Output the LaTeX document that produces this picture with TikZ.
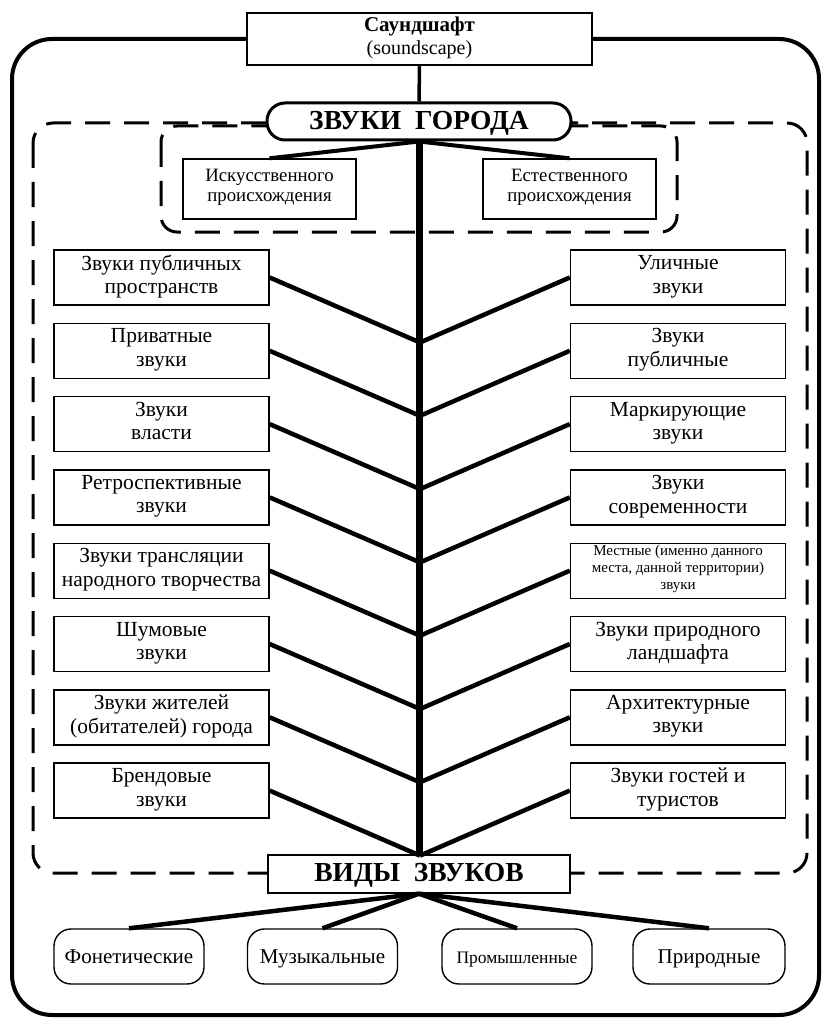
\documentclass[tikz,border=0pt]{standalone}
\usepackage{fontspec}
\setmainfont{Liberation Serif}
\begin{document}
\begin{tikzpicture}[x=1pt,y=-1pt,
  struts/.style 2 args={execute at begin node={\rule{0pt}{#1}},
    execute at end node={\rule[-#2]{0pt}{#2}}},
  rowbox/.style={draw, line width=1.4pt, fill=white, align=center, inner sep=0pt, struts={20pt}{6.5pt},
    minimum width=215pt, minimum height=55pt, font=\fontsize{21.5}{23.5}\selectfont},
  smalltext/.style={font=\fontsize{15}{17}\selectfont, struts={19pt}{5pt}},
  branch/.style={line width=4.5pt},
  dashbox/.style={line width=3pt, dash pattern=on 25pt off 14pt},
  pillbox/.style={draw, line width=1.4pt, rounded corners=17pt, fill=white, align=center, struts={19.6pt}{6pt},
    minimum width=150pt, minimum height=55pt, inner sep=0pt, font=\fontsize{21}{24}\selectfont},
  title/.style={font=\bfseries\fontsize{27.5}{30}\selectfont}
]
\useasboundingbox (0,0) rectangle (825,1019);
% outer frame
\draw[line width=4pt, rounded corners=40pt] (12,39) rectangle (819,1015);
% dashed frames
\draw[dashbox, rounded corners=20pt] (33,123) rectangle (807,873);
\draw[dashbox, rounded corners=16pt] (161,126) rectangle (677,232);

% top box
\node[draw, line width=2.5pt, fill=white, align=center, inner sep=0pt, struts={18.3pt}{7pt},
  minimum width=345pt, minimum height=52pt, font=\fontsize{20}{22.7}\selectfont]
  (top) at (419.5,39) {{\bfseries\fontsize{21}{22.7}\selectfont Саундшафт}\\(soundscape)};
% city sounds pill
\node[draw, line width=3pt, fill=white, rounded corners=18pt, inner sep=0pt,
  minimum width=304pt, minimum height=37pt, title, struts={21.6pt}{6pt}] (city) at (419,121.5) {ЗВУКИ\ \ ГОРОДА};
% inner boxes
\node[rowbox, minimum width=173pt, minimum height=60pt, struts={20pt}{6pt}, font=\fontsize{18.8}{20}\selectfont]
  (art) at (269.5,189) {Искусственного\\происхождения};
\node[rowbox, minimum width=173pt, minimum height=60pt, struts={20pt}{6pt}, font=\fontsize{18.8}{20}\selectfont]
  (nat) at (569.5,189) {Естественного\\происхождения};
% kinds box
\node[draw, line width=1.4pt, fill=white, inner sep=0pt, minimum width=302pt,
  minimum height=38pt, title, struts={21.4pt}{6pt}] (kinds) at (419,874) {ВИДЫ\ \ ЗВУКОВ};

% left boxes
\node[rowbox] (L0) at (161.5,277.5) {Звуки публичных\\пространств};
\node[rowbox] (L1) at (161.5,350.8) {Приватные\\звуки};
\node[rowbox] (L2) at (161.5,424.1) {Звуки\\власти};
\node[rowbox] (L3) at (161.5,497.4) {Ретроспективные\\звуки};
\node[rowbox] (L4) at (161.5,570.7) {Звуки трансляции\\народного творчества};
\node[rowbox] (L5) at (161.5,644.0) {Шумовые\\звуки};
\node[rowbox] (L6) at (161.5,717.3) {Звуки жителей\\(обитателей) города};
\node[rowbox] (L7) at (161.5,790.6) {Брендовые\\звуки};
% right boxes
\node[rowbox] (R0) at (678,277.5) {Уличные\\звуки};
\node[rowbox] (R1) at (678,350.8) {Звуки\\публичные};
\node[rowbox] (R2) at (678,424.1) {Маркирующие\\звуки};
\node[rowbox] (R3) at (678,497.4) {Звуки\\современности};
\node[rowbox, smalltext] (R4) at (678,570.7) {Местные (именно данного\\места, данной территории)\\звуки};
\node[rowbox] (R5) at (678,644.0) {Звуки природного\\ландшафта};
\node[rowbox] (R6) at (678,717.3) {Архитектурные\\звуки};
\node[rowbox] (R7) at (678,790.6) {Звуки гостей и\\туристов};

% bottom kinds
\node[pillbox] (k1) at (129,956.5) {Фонетические};
\node[pillbox] (k2) at (322.5,956.5) {Музыкальные};
\node[pillbox, font=\fontsize{17.5}{20}\selectfont, struts={15.4pt}{5pt}] (k3) at (517,956.5) {Промышленные};
\node[pillbox, minimum width=152pt] (k4) at (709,956.5) {Природные};

% junctions on the trunk
\foreach \i/\y in {0/342.5,1/415.8,2/489.1,3/562.4,4/635.7,5/709.0,6/782.3,7/855.6}
  \coordinate (j\i) at (420,\y);

% branches
\foreach \i in {0,...,7}{
  \draw[branch] (L\i.east) -- (j\i);
  \draw[branch] (R\i.west) -- (j\i);
}
\draw[line width=4pt] (city.south) -- (art.north);
\draw[line width=4pt] (city.south) -- (nat.north);
\draw[line width=3.5pt] (top.south) -- (city.north);
\draw[line width=7pt] (city.south) -- (kinds.north);
\foreach \k in {k1,k2,k3,k4}
  \draw[branch] (kinds.south) -- (\k.north);
\end{tikzpicture}
\end{document}
